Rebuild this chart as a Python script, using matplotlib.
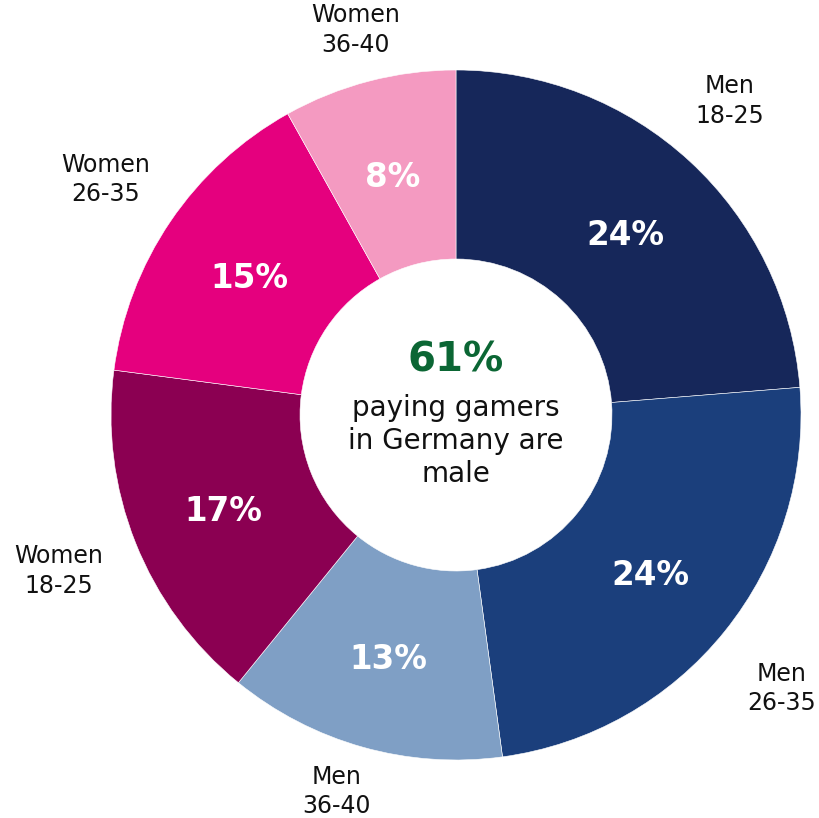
import matplotlib
matplotlib.use('Agg')
import matplotlib.pyplot as plt
import numpy as np

# segment data, clockwise from 12 o'clock
groups = ['Men\n18-25', 'Men\n26-35', 'Men\n36-40',
          'Women\n18-25', 'Women\n26-35', 'Women\n36-40']
shares = [23.7, 24.1, 13.0, 16.2, 14.8, 8.1]
share_labels = ['24%', '24%', '13%', '17%', '15%', '8%']
colors = ['#16275a', '#1b3f7c', '#7f9fc5', '#8b0052', '#e5007e', '#f49ac1']

center_big = '61%'
center_text = 'paying gamers\nin Germany are\nmale'

plt.rcParams['font.family'] = ['DejaVu Sans']

fig = plt.figure(figsize=(8.2, 8.18), dpi=100)
ax = fig.add_axes([0, 0, 1, 1])

cx, cy = 456, 403
R = 345
W = 189

wedges, _ = ax.pie(shares, colors=colors, startangle=90, counterclock=False,
                   center=(cx, cy), radius=R, frame=True,
                   wedgeprops=dict(width=W, edgecolor='white', linewidth=0.4))
ax.set_xlim(0, 820)
ax.set_ylim(0, 818)
ax.set_aspect('equal')
ax.axis('off')

# label radius and small angle nudge per group
label_r = [418, 424, 393, 426, 423, 400]
label_da = [1.8, -1, -2, -0.5, 0, 0]
for w, pl, grp, lr, da in zip(wedges, share_labels, groups, label_r, label_da):
    mid = np.deg2rad((w.theta1 + w.theta2) / 2)
    ax.text(cx + 250 * np.cos(mid), cy + 250 * np.sin(mid) - 4, pl,
            ha='center', va='center', color='white', fontsize=23.5,
            fontweight='bold')
    lm = mid + np.deg2rad(da)
    ax.text(cx + lr * np.cos(lm), cy + lr * np.sin(lm) - 2, grp,
            ha='center', va='center', color='#111111', fontsize=17,
            linespacing=1.3)

ax.text(cx, cy + 54, center_big, ha='center', va='center',
        color='#0b6634', fontsize=29, fontweight='bold')
ax.text(cx, cy - 26, center_text, ha='center', va='center',
        color='#111111', fontsize=20, linespacing=1.23)

fig.savefig('out.png', dpi=100)
